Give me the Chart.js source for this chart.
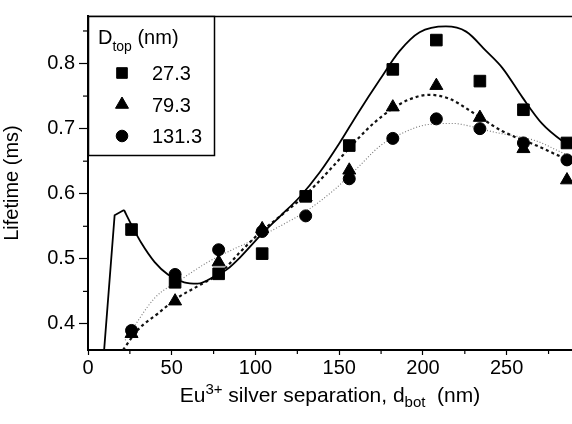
<!DOCTYPE html>
<html>
<head>
<meta charset="utf-8">
<script src="https://cdn.jsdelivr.net/npm/chart.js@4/dist/chart.umd.min.js"></script>
<style>
  html, body { margin: 0; padding: 0; background: #fff; }
</style>
</head>
<body>
<canvas id="chart_canvas" width="572" height="424"></canvas>
<script>
"use strict";
// measured points: bottom separation (nm) vs lifetime (ms)
const sep = [26, 52, 78, 104, 130, 156, 182, 208, 234, 260, 286];
const life_27 = [0.545, 0.464, 0.477, 0.508, 0.596, 0.674, 0.791, 0.836, 0.773, 0.729, 0.678];
const life_79 = [0.385, 0.435, 0.495, 0.546, 0.595, 0.636, 0.733, 0.766, 0.717, 0.669, 0.621];
const life_131 = [0.390, 0.476, 0.514, 0.542, 0.566, 0.623, 0.685, 0.715, 0.700, 0.678, 0.652];

// fitted curves
// the 27.3 fit has a sharp rise near zero, kept as straight segments
const rise_27_x = [9.6, 15.9, 21.5];
const rise_27_y = [0.359, 0.567, 0.575];
const fit_27_x = [21.5, 26, 31.7, 39.8, 47.7, 57.4, 65.5, 75.6, 83.6, 90.7, 102.6, 114.5, 126.4, 138.4, 150.2, 161, 174.2, 186, 198, 213.7, 225.8, 237.8, 247.5, 259.4, 271, 283.2, 289];
const fit_27_y = [0.575, 0.552, 0.525, 0.495, 0.476, 0.464, 0.462, 0.473, 0.485, 0.502, 0.535, 0.565, 0.595, 0.633, 0.678, 0.723, 0.775, 0.819, 0.848, 0.857, 0.849, 0.819, 0.793, 0.748, 0.708, 0.681, 0.672];
const fit_79_x = [20.9, 29.8, 41.7, 53.4, 65.5, 79.3, 90.7, 102.6, 114.5, 130.6, 144.1, 161, 171.3, 181.4, 192, 203.6, 215.7, 227.8, 235.5, 247.5, 267.8, 283.2, 289];
const fit_79_y = [0.360, 0.391, 0.416, 0.440, 0.458, 0.479, 0.510, 0.540, 0.565, 0.600, 0.636, 0.684, 0.710, 0.730, 0.745, 0.752, 0.746, 0.728, 0.715, 0.696, 0.674, 0.656, 0.650];
const fit_131_x = [22.2, 39.9, 55.4, 71.6, 85.3, 95.4, 114.5, 130.6, 146.1, 161, 174.2, 186, 202.2, 217.7, 229.6, 241.9, 267.8, 283.2, 289];
const fit_131_y = [0.375, 0.440, 0.468, 0.495, 0.513, 0.525, 0.550, 0.574, 0.604, 0.640, 0.673, 0.691, 0.706, 0.708, 0.703, 0.695, 0.681, 0.663, 0.657];

const legend_labels = ["27.3", "79.3", "131.3"];
const legend_styles = ["rect", "triangle", "circle"];
const x_ticks = [0, 50, 100, 150, 200, 250];
const x_minor = [25, 75, 125, 175, 225, 275];
const y_ticks = [0.4, 0.5, 0.6, 0.7, 0.8];
const y_minor = [0.45, 0.55, 0.65, 0.75, 0.85];

const FONT = "'Liberation Sans', Arial, Helvetica, sans-serif";

function pts(xs, ys) {
  return xs.map((x, i) => ({ x: x, y: ys[i] }));
}

function marker(ctx, style, x, y, r) {
  ctx.beginPath();
  if (style === "rect") {
    const s = r * Math.SQRT1_2;
    ctx.rect(x - s, y - s, 2 * s, 2 * s);
  } else if (style === "triangle") {
    let a = 0;
    ctx.moveTo(x + Math.sin(a) * r, y - Math.cos(a) * r);
    a += 2 * Math.PI / 3;
    ctx.lineTo(x + Math.sin(a) * r, y - Math.cos(a) * r);
    a += 2 * Math.PI / 3;
    ctx.lineTo(x + Math.sin(a) * r, y - Math.cos(a) * r);
    ctx.closePath();
  } else {
    ctx.arc(x, y, r, 0, Math.PI * 2);
  }
  ctx.fill();
  ctx.stroke();
}

// draw a run of [text, size, baseline shift] pieces centred on cx
function rich_text(ctx, parts, cx, y) {
  let total = 0;
  parts.forEach(p => {
    ctx.font = p[1] + "px " + FONT;
    total += ctx.measureText(p[0]).width;
  });
  let x = cx - total / 2;
  parts.forEach(p => {
    ctx.font = p[1] + "px " + FONT;
    ctx.fillText(p[0], x, y + p[2]);
    x += ctx.measureText(p[0]).width;
  });
}

const extras = {
  id: "extras",
  beforeDraw(chart) {
    const ctx = chart.ctx;
    ctx.save();
    ctx.fillStyle = "#fff";
    ctx.fillRect(0, 0, chart.width, chart.height);
    ctx.restore();
  },
  afterDraw(chart) {
    const ctx = chart.ctx;
    const a = chart.chartArea;
    const xs = chart.scales.x, ys = chart.scales.y;
    ctx.save();
    ctx.strokeStyle = "#000";
    ctx.fillStyle = "#000";

    // top frame line
    ctx.lineWidth = 1.5;
    ctx.beginPath();
    ctx.moveTo(a.left, a.top + 0.5);
    ctx.lineTo(a.right, a.top + 0.5);
    ctx.stroke();

    // minor ticks
    ctx.lineWidth = 1.2;
    x_minor.forEach(v => {
      const p = xs.getPixelForValue(v);
      ctx.beginPath(); ctx.moveTo(p, a.bottom); ctx.lineTo(p, a.bottom + 4); ctx.stroke();
    });
    y_minor.forEach(v => {
      const p = ys.getPixelForValue(v);
      if (p < a.top) return;
      ctx.beginPath(); ctx.moveTo(a.left - 5, p); ctx.lineTo(a.left, p); ctx.stroke();
    });

    // legend box
    const bx = a.left, by = a.top, bw = 126, bh = 139;
    ctx.fillStyle = "#fff";
    ctx.fillRect(bx, by, bw, bh);
    ctx.lineWidth = 1.5;
    ctx.strokeRect(bx + 0.5, by + 0.5, bw, bh);
    ctx.fillStyle = "#000";
    ctx.textBaseline = "alphabetic";
    ctx.textAlign = "left";
    ctx.font = "20px " + FONT;
    ctx.fillText("D", bx + 10, by + 28);
    let w = ctx.measureText("D").width;
    ctx.font = "14px " + FONT;
    ctx.fillText("top", bx + 10 + w, by + 35);
    w += ctx.measureText("top").width;
    ctx.font = "20px " + FONT;
    ctx.fillText(" (nm)", bx + 10 + w, by + 28);
    ctx.lineWidth = 1;
    legend_labels.forEach((lab, i) => {
      const cy = by + 57 + i * 31.5;
      marker(ctx, legend_styles[i], bx + 34, cy, legend_styles[i] === "circle" ? 5.8 : 7.5);
      ctx.fillText(lab, bx + 64, cy + 7);
    });

    // x axis title with super/subscripts
    ctx.fillStyle = "#000";
    rich_text(ctx, [
      ["Eu", 21, 0],
      ["3+", 15, -8],
      [" silver separation, d", 21, 0],
      ["bot", 15, 5],
      ["  (nm)", 21, 0]
    ], 330, a.bottom + 52);
    ctx.restore();
  }
};

const curve = (xs, ys, dash, width, color, tension) => ({
  type: "line",
  data: pts(xs, ys),
  borderColor: color,
  borderWidth: width,
  borderDash: dash,
  pointRadius: 0,
  fill: false,
  tension: tension,
  cubicInterpolationMode: tension ? "monotone" : "default",
  order: 2
});

const marks = (ys, style, r) => ({
  type: "scatter",
  data: pts(sep, ys),
  pointStyle: style,
  pointRadius: r,
  pointBackgroundColor: "#000",
  pointBorderColor: "#000",
  pointBorderWidth: 1,
  showLine: false,
  clip: false,
  order: 1
});

Chart.defaults.font.family = FONT;
Chart.defaults.color = "#000";

new Chart(document.getElementById("chart_canvas"), {
  type: "scatter",
  data: {
    datasets: [
      marks(life_27, "rect", 8.2),
      marks(life_79, "triangle", 7.5),
      marks(life_131, "circle", 6),
      curve(rise_27_x, rise_27_y, [], 1.8, "#000", 0),
      curve(fit_27_x, fit_27_y, [], 1.8, "#000", 0.4),
      curve(fit_79_x, fit_79_y, [3, 3], 2.2, "#111", 0.4),
      curve(fit_131_x, fit_131_y, [1, 2], 1.1, "#777", 0.4)
    ]
  },
  options: {
    responsive: false,
    devicePixelRatio: 1,
    animation: false,
    events: [],
    layout: { autoPadding: false, padding: { top: 6, right: 0, left: 0, bottom: 0 } },
    plugins: {
      legend: { display: false },
      tooltip: { enabled: false }
    },
    scales: {
      x: {
        type: "linear",
        min: 0,
        max: 289,
        afterBuildTicks: s => { s.ticks = x_ticks.map(v => ({ value: v })); },
        afterFit: s => { s.height = 74; },
        ticks: { font: { size: 20 }, color: "#000", padding: 1, maxRotation: 0 },
        grid: { drawOnChartArea: false, drawTicks: true, tickLength: 5, tickColor: "#000", tickWidth: 1.2 },
        border: { display: true, color: "#000", width: 2 },
        title: { display: false }
      },
      y: {
        type: "linear",
        min: 0.36,
        max: 0.873,
        afterBuildTicks: s => { s.ticks = y_ticks.map(v => ({ value: v })); },
        afterFit: s => { s.width = 88; },
        ticks: { font: { size: 20 }, color: "#000", padding: 4, callback: v => v.toFixed(1) },
        grid: { drawOnChartArea: false, drawTicks: true, tickLength: 9, tickColor: "#000", tickWidth: 1.2 },
        border: { display: true, color: "#000", width: 2 },
        title: { display: true, text: "Lifetime (ms)", font: { size: 20 }, color: "#000", padding: { top: 0, bottom: 0 } }
      }
    }
  },
  plugins: [extras]
});
</script>
</body>
</html>
